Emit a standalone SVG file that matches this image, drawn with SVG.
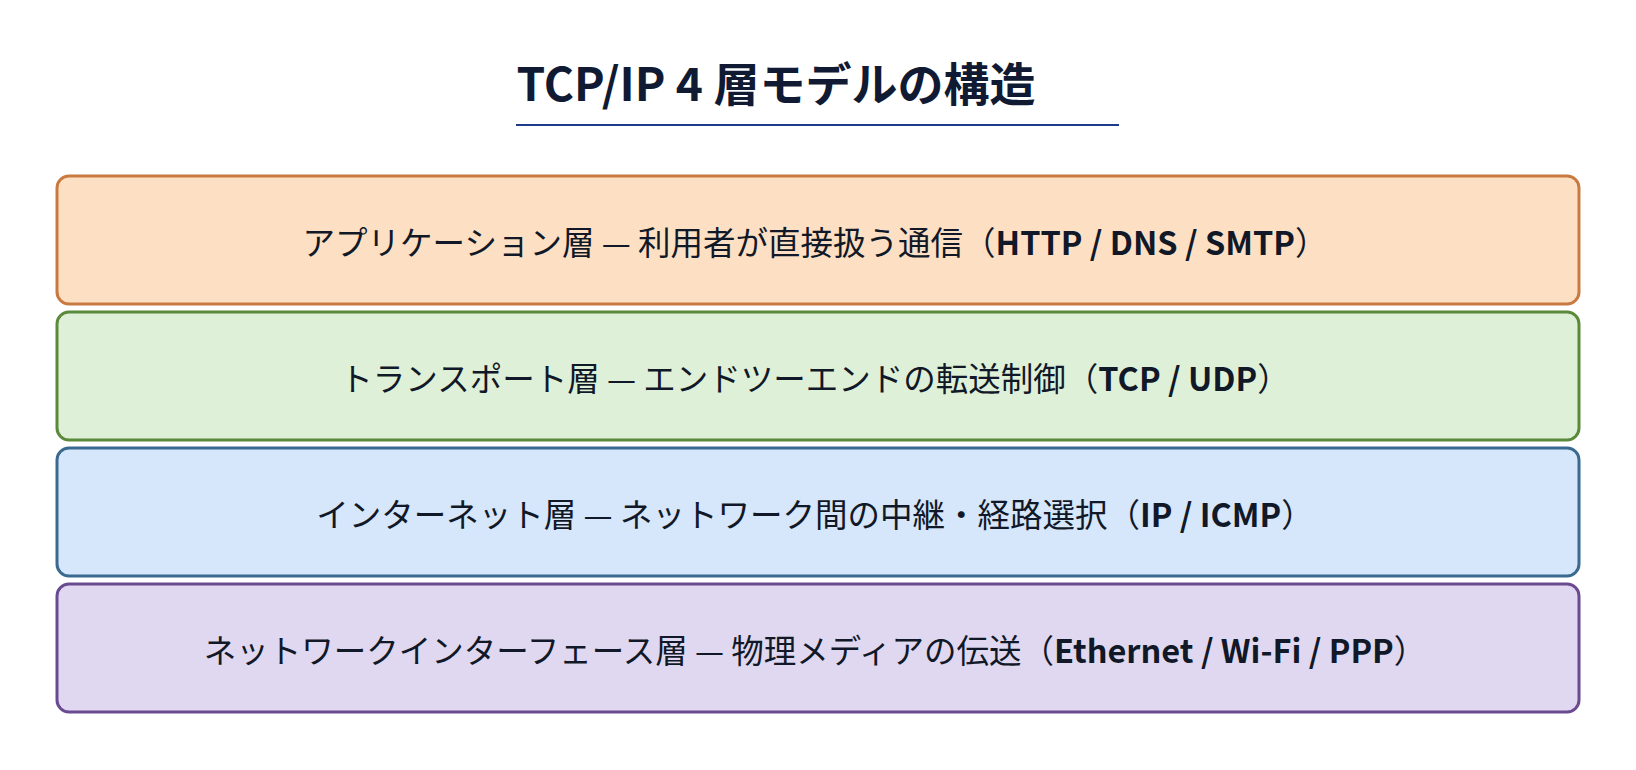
<svg xmlns="http://www.w3.org/2000/svg" width="1636" height="770" viewBox="0 0 1636 770">
<style>
.t{font-family:"Noto Sans CJK JP","Noto Sans",sans-serif;font-size:32.5px;fill:#111827;text-anchor:middle;dominant-baseline:central}
.b{font-weight:bold}
.box{stroke-width:3}
</style>
<rect width="1636" height="770" fill="#ffffff"/>
<g id="title">
<text x="776" y="81" font-family="Noto Sans CJK JP,Noto Sans,sans-serif" font-size="46" font-weight="bold" fill="#111a33" text-anchor="middle" dominant-baseline="central">TCP/IP 4 層モデルの構造</text>
<line x1="516" y1="125" x2="1119" y2="125" stroke="#1e3a8a" stroke-width="2"/>
</g>
<g id="app">
<rect class="box" x="57" y="176" width="1522" height="128" rx="12" fill="#fde0c4" stroke="#c97a40"/>
<text class="t" x="815" y="240">アプリケーション層 — 利用者が直接扱う通信（<tspan class="b">HTTP / DNS / SMTP</tspan>）</text>
</g>
<g id="transport">
<rect class="box" x="57" y="312" width="1522" height="128" rx="12" fill="#dff0d8" stroke="#5b8a3a"/>
<text class="t" x="815" y="376">トランスポート層 — エンドツーエンドの転送制御（<tspan class="b">TCP / UDP</tspan>）</text>
</g>
<g id="internet">
<rect class="box" x="57" y="448" width="1522" height="128" rx="12" fill="#d6e6fb" stroke="#3a6a90"/>
<text class="t" x="815" y="512">インターネット層 — ネットワーク間の中継・経路選択（<tspan class="b">IP / ICMP</tspan>）</text>
</g>
<g id="link">
<rect class="box" x="57" y="584" width="1522" height="128" rx="12" fill="#e0d8f0" stroke="#6a4a90"/>
<text class="t" x="815" y="648">ネットワークインターフェース層 — 物理メディアの伝送（<tspan class="b">Ethernet / Wi-Fi / PPP</tspan>）</text>
</g>
<g id="connectors"/>
</svg>
